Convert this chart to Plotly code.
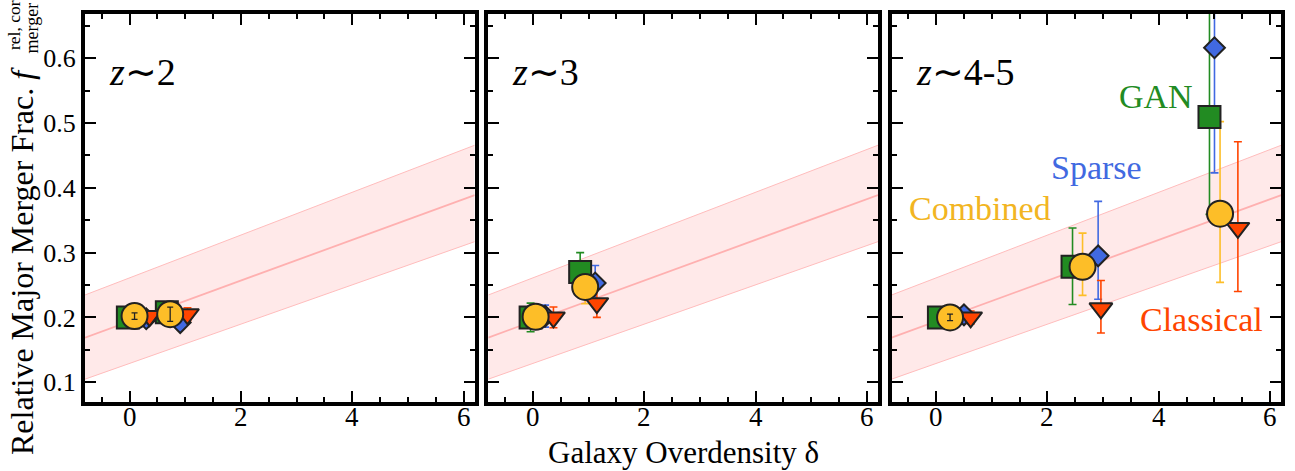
import plotly.graph_objects as go

# ---------------- data ----------------
panel_titles = ["z~2", "z~3", "z~4-5"]

# z~2
p1_gan_d = [-0.03, 0.67]
p1_gan_f = [0.200, 0.208]
p1_gan_ep = [0.008, 0.012]
p1_gan_em = [0.008, 0.012]
p1_sparse_d = [0.30, 0.91]
p1_sparse_f = [0.198, 0.192]
p1_sparse_ep = [0.008, 0.010]
p1_sparse_em = [0.008, 0.010]
p1_class_d = [0.36, 1.04]
p1_class_f = [0.202, 0.205]
p1_class_ep = [0.008, 0.010]
p1_class_em = [0.008, 0.010]
p1_comb_d = [0.09, 0.73]
p1_comb_f = [0.202, 0.205]
p1_comb_ep = [0.005, 0.011]
p1_comb_em = [0.005, 0.011]

# z~3
p2_gan_d = [-0.04, 0.85]
p2_gan_f = [0.200, 0.270]
p2_gan_ep = [0.022, 0.030]
p2_gan_em = [0.022, 0.030]
p2_sparse_d = [0.22, 1.12]
p2_sparse_f = [0.202, 0.253]
p2_sparse_ep = [0.017, 0.027]
p2_sparse_em = [0.017, 0.027]
p2_class_d = [0.37, 1.15]
p2_class_f = [0.200, 0.222]
p2_class_ep = [0.016, 0.022]
p2_class_em = [0.016, 0.022]
p2_comb_d = [0.05, 0.94]
p2_comb_f = [0.201, 0.247]
p2_comb_ep = [0.014, 0.026]
p2_comb_em = [0.014, 0.026]

# z~4-5
p3_gan_d = [0.05, 2.45, 4.91]
p3_gan_f = [0.200, 0.278, 0.509]
p3_gan_ep = [0.010, 0.060, 0.250]
p3_gan_em = [0.010, 0.058, 0.150]
p3_sparse_d = [0.50, 2.91, 5.00]
p3_sparse_f = [0.204, 0.295, 0.616]
p3_sparse_ep = [0.010, 0.084, 0.200]
p3_sparse_em = [0.010, 0.067, 0.193]
p3_class_d = [0.62, 2.96, 5.42]
p3_class_f = [0.200, 0.214, 0.338]
p3_class_ep = [0.010, 0.043, 0.133]
p3_class_em = [0.010, 0.038, 0.098]
p3_comb_d = [0.25, 2.63, 5.10]
p3_comb_f = [0.200, 0.278, 0.360]
p3_comb_ep = [0.005, 0.052, 0.142]
p3_comb_em = [0.005, 0.044, 0.106]

# linear relation with its uncertainty band
band_x = [-0.8, 6.2]
fit_intercept = 0.194
fit_slope = 0.0314
upper_intercept = 0.261
upper_slope = 0.0330
lower_intercept = 0.129
lower_slope = 0.0303

x_ticks = [0, 2, 4, 6]
y_ticks = [0.1, 0.2, 0.3, 0.4, 0.5, 0.6]

# ---------------- style ----------------
W, H = 1295, 471
FONT = "Liberation Serif"
C_GAN = "#228B22"
C_SPARSE = "#4169E1"
C_CLASS = "#FF4500"
C_COMB = "#FDBE28"
C_COMB_TXT = "#F2B522"
EDGE = "#222222"

panel_left = [85, 488.3, 891.6]
panel_w = 389.7
y_top, y_bot = 14, 401.7

panels = [
    dict(
        gan=(p1_gan_d, p1_gan_f, p1_gan_ep, p1_gan_em),
        sparse=(p1_sparse_d, p1_sparse_f, p1_sparse_ep, p1_sparse_em),
        classical=(p1_class_d, p1_class_f, p1_class_ep, p1_class_em),
        combined=(p1_comb_d, p1_comb_f, p1_comb_ep, p1_comb_em),
        dark_bars=[0, 1],
    ),
    dict(
        gan=(p2_gan_d, p2_gan_f, p2_gan_ep, p2_gan_em),
        sparse=(p2_sparse_d, p2_sparse_f, p2_sparse_ep, p2_sparse_em),
        classical=(p2_class_d, p2_class_f, p2_class_ep, p2_class_em),
        combined=(p2_comb_d, p2_comb_f, p2_comb_ep, p2_comb_em),
        dark_bars=[],
    ),
    dict(
        gan=(p3_gan_d, p3_gan_f, p3_gan_ep, p3_gan_em),
        sparse=(p3_sparse_d, p3_sparse_f, p3_sparse_ep, p3_sparse_em),
        classical=(p3_class_d, p3_class_f, p3_class_ep, p3_class_em),
        combined=(p3_comb_d, p3_comb_f, p3_comb_ep, p3_comb_em),
        dark_bars=[0],
    ),
]

series_style = {
    "gan": dict(color=C_GAN, symbol="square", size=22),
    "sparse": dict(color=C_SPARSE, symbol="diamond", size=16),
    "classical": dict(color=C_CLASS, symbol="triangle-down", size=20),
    "combined": dict(color=C_COMB, symbol="circle", size=26),
}
marker_order = ["sparse", "gan", "classical", "combined"]

fig = go.Figure()


def px_x(p):
    return p / W


def px_y(p):
    return 1 - p / H


def label(text, xp, yp, size, color="black", angle=0, xanchor="center",
          yanchor="middle", xref="paper", pad=1):
    fig.add_annotation(text=text, x=px_x(xp) if xref == "paper" else xp,
                       y=px_y(yp), xref=xref, yref="paper",
                       xanchor=xanchor, yanchor=yanchor, borderpad=pad,
                       textangle=angle, showarrow=False,
                       font=dict(family=FONT, size=size, color=color))


for i, pan in enumerate(panels):
    sfx = "" if i == 0 else str(i + 1)
    xa, ya = "x" + sfx, "y" + sfx

    # uncertainty band
    up = [upper_intercept + upper_slope * x for x in band_x]
    lo = [lower_intercept + lower_slope * x for x in band_x]
    fig.add_trace(go.Scatter(
        x=band_x + band_x[::-1], y=up + lo[::-1], fill="toself",
        fillcolor="rgba(255,120,120,0.16)", line=dict(width=0),
        mode="lines", hoverinfo="skip", showlegend=False, xaxis=xa, yaxis=ya))
    for yy in (up, lo):
        fig.add_trace(go.Scatter(
            x=band_x, y=yy, mode="lines", line=dict(color="#ffbcbc", width=1),
            hoverinfo="skip", showlegend=False, xaxis=xa, yaxis=ya))
    fig.add_trace(go.Scatter(
        x=band_x, y=[fit_intercept + fit_slope * x for x in band_x],
        mode="lines", line=dict(color="#ffb0b0", width=1.8),
        hoverinfo="skip", showlegend=False, xaxis=xa, yaxis=ya))

    # error bars first, underneath every marker
    for key in ["gan", "sparse", "classical", "combined"]:
        d, f, ep, em = pan[key]
        col = series_style[key]["color"]
        fig.add_trace(go.Scatter(
            x=d, y=f, mode="markers",
            marker=dict(size=1, color="rgba(0,0,0,0)"),
            error_y=dict(type="data", symmetric=False, array=ep, arrayminus=em,
                         color=col, thickness=1.6, width=4),
            showlegend=False, hoverinfo="skip", xaxis=xa, yaxis=ya))

    # markers
    for key in marker_order:
        d, f, ep, em = pan[key]
        st = series_style[key]
        fig.add_trace(go.Scatter(
            x=d, y=f, mode="markers",
            marker=dict(symbol=st["symbol"], size=st["size"], color=st["color"],
                        line=dict(color=EDGE, width=2)),
            showlegend=False, xaxis=xa, yaxis=ya))

    # small combined bars that sit inside the circle are drawn on top in dark
    if pan["dark_bars"]:
        d, f, ep, em = pan["combined"]
        idx = pan["dark_bars"]
        fig.add_trace(go.Scatter(
            x=[d[k] for k in idx], y=[f[k] for k in idx], mode="markers",
            marker=dict(size=1, color="rgba(0,0,0,0)"),
            error_y=dict(type="data", symmetric=False,
                         array=[ep[k] for k in idx], arrayminus=[em[k] for k in idx],
                         color="#222222", thickness=1.3, width=3),
            showlegend=False, hoverinfo="skip", xaxis=xa, yaxis=ya))

    x0 = panel_left[i]
    axis_common = dict(
        showline=True, linewidth=4, linecolor="black", mirror="allticks",
        ticks="inside", tickwidth=2, tickcolor="black", showgrid=False,
        zeroline=False,
    )
    fig.layout["xaxis" + sfx] = dict(
        axis_common, domain=[px_x(x0), px_x(x0 + panel_w)], range=[-0.8, 6.2],
        tickvals=x_ticks, ticklen=11, anchor=ya, showticklabels=False,
        minor=dict(dtick=0.5, tick0=0, ticklen=5, tickwidth=1.5, ticks="inside",
                   tickcolor="black", showgrid=False),
    )
    fig.layout["yaxis" + sfx] = dict(
        axis_common, domain=[px_y(y_bot), px_y(y_top)], range=[0.07, 0.668],
        tickvals=y_ticks, ticktext=[f"{v:.1f}" for v in y_ticks],
        ticklen=11, anchor=xa, showticklabels=(i == 0),
        tickfont=dict(family=FONT, size=26, color="black"),
        minor=dict(dtick=0.05, tick0=0, ticklen=5, tickwidth=1.5, ticks="inside",
                   tickcolor="black", showgrid=False),
    )

    # x tick labels, placed on the axis scale just below the frame
    for t in x_ticks:
        label(str(t), t, 417, 27, xref=xa, pad=0)

    label("<i>z</i>∼" + panel_titles[i][2:], x0 + 22, 72, 38, xanchor="left")

# method labels in the high-redshift panel
method_labels = [
    ("GAN", C_GAN, 1156, 97),
    ("Sparse", C_SPARSE, 1096, 168),
    ("Combined", C_COMB_TXT, 980, 208),
    ("Classical", C_CLASS, 1201, 319),
]
for txt, col, xp, yp in method_labels:
    label(txt, xp, yp, 34, color=col)

# axis titles
label("Galaxy Overdensity δ", 683, 452, 31, pad=0)
label("Relative Major Merger Frac. <i>f</i>", 22, 457, 32, angle=-90,
      yanchor="bottom")
label("rel, cor", 14, 52, 17.5, angle=-90, yanchor="bottom")
label("merger", 32, 56, 18, angle=-90, yanchor="bottom")

fig.update_layout(
    width=W, height=H, margin=dict(l=0, r=0, t=0, b=0),
    paper_bgcolor="white", plot_bgcolor="white", showlegend=False,
)

fig.write_html("out.html")
